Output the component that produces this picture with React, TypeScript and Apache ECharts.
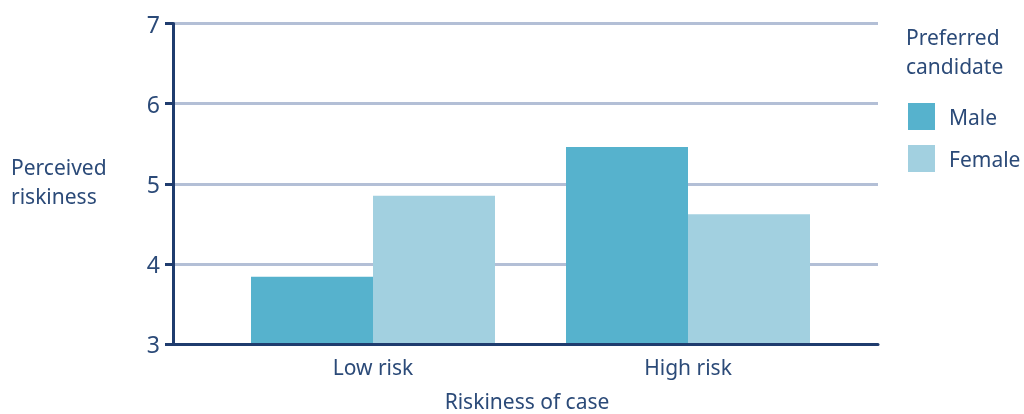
import React, { useEffect, useRef } from "react";
import * as echarts from "echarts";

const categories = ["Low risk", "High risk"];
const maleValues = [3.84, 5.46];
const femaleValues = [4.85, 4.62];
const seriesNames = ["Male", "Female"];
const yTicks = { min: 3, max: 7, interval: 1 };

const NAVY = "#1f3c6e";
const TEXT = "#2b4a78";
const GRIDC = "#b3bfd6";
const MALE = "#56b2cd";
const FEMALE = "#a2d0e0";
const FONT = "Noto Sans";

export default function App() {
  const ref = useRef<HTMLDivElement>(null);
  useEffect(() => {
    if (!ref.current) return;
    const chart = echarts.init(ref.current, undefined, { renderer: "svg" });
    chart.setOption({
      animation: false,
      textStyle: { fontFamily: FONT },
      grid: [
        { left: 173, right: 146, top: 23.5, bottom: 70 },
        { left: 215.5, right: 178.5, top: 23.5, bottom: 70 },
      ],
      xAxis: [
        {
          gridIndex: 0,
          type: "category",
          data: ["a"],
          axisLine: { show: true, lineStyle: { color: NAVY, width: 3 } },
          axisTick: { show: false },
          axisLabel: { show: false },
          z: 5,
        },
        {
          gridIndex: 1,
          type: "category",
          data: categories,
          axisLine: { show: false },
          axisTick: { show: false },
          axisLabel: { color: TEXT, fontSize: 21, margin: 12, fontFamily: FONT },
        },
      ],
      yAxis: [
        {
          gridIndex: 0,
          type: "value",
          min: yTicks.min,
          max: yTicks.max,
          interval: yTicks.interval,
          axisLine: { show: true, lineStyle: { color: NAVY, width: 3 } },
          axisTick: { show: true, length: 8, lineStyle: { color: NAVY, width: 3 } },
          axisLabel: { color: TEXT, fontSize: 23, margin: 13, fontFamily: FONT },
          splitLine: { show: true, lineStyle: { color: GRIDC, width: 3 } },
        },
        {
          gridIndex: 1,
          type: "value",
          min: yTicks.min,
          max: yTicks.max,
          interval: yTicks.interval,
          show: false,
          splitLine: { show: false },
        },
      ],
      legend: {
        orient: "vertical",
        left: 908,
        top: 103,
        itemWidth: 27,
        itemHeight: 27,
        itemGap: 15,
        icon: "rect",
        textStyle: { color: TEXT, fontSize: 21, fontFamily: FONT, padding: [0, 0, 0, 9] },
        padding: 0,
        data: seriesNames,
      },
      series: [
        {
          name: seriesNames[0],
          type: "bar",
          xAxisIndex: 1,
          yAxisIndex: 1,
          data: maleValues,
          barWidth: 122,
          barGap: "0%",
          itemStyle: { color: MALE },
        },
        {
          name: seriesNames[1],
          type: "bar",
          xAxisIndex: 1,
          yAxisIndex: 1,
          data: femaleValues,
          barWidth: 122,
          barGap: "0%",
          itemStyle: { color: FEMALE },
        },
      ],
      graphic: [
        {
          type: "text",
          left: 11,
          top: 152,
          style: {
            text: "Perceived\nriskiness",
            fill: TEXT,
            font: `21px "${FONT}"`,
            lineHeight: 29,
          },
        },
        {
          type: "text",
          left: 906,
          top: 22,
          style: {
            text: "Preferred\ncandidate",
            fill: TEXT,
            font: `21px "${FONT}"`,
            lineHeight: 29,
          },
        },
        {
          type: "text",
          x: 527,
          y: 401,
          style: {
            text: "Riskiness of case",
            fill: TEXT,
            font: `21px "${FONT}"`,
            align: "center",
            verticalAlign: "middle",
          },
        },
      ],
    });
    return () => chart.dispose();
  }, []);
  return (
    <div
      ref={ref}
      style={{ position: "fixed", left: 0, top: 0, width: 1024, height: 414 }}
    />
  );
}
